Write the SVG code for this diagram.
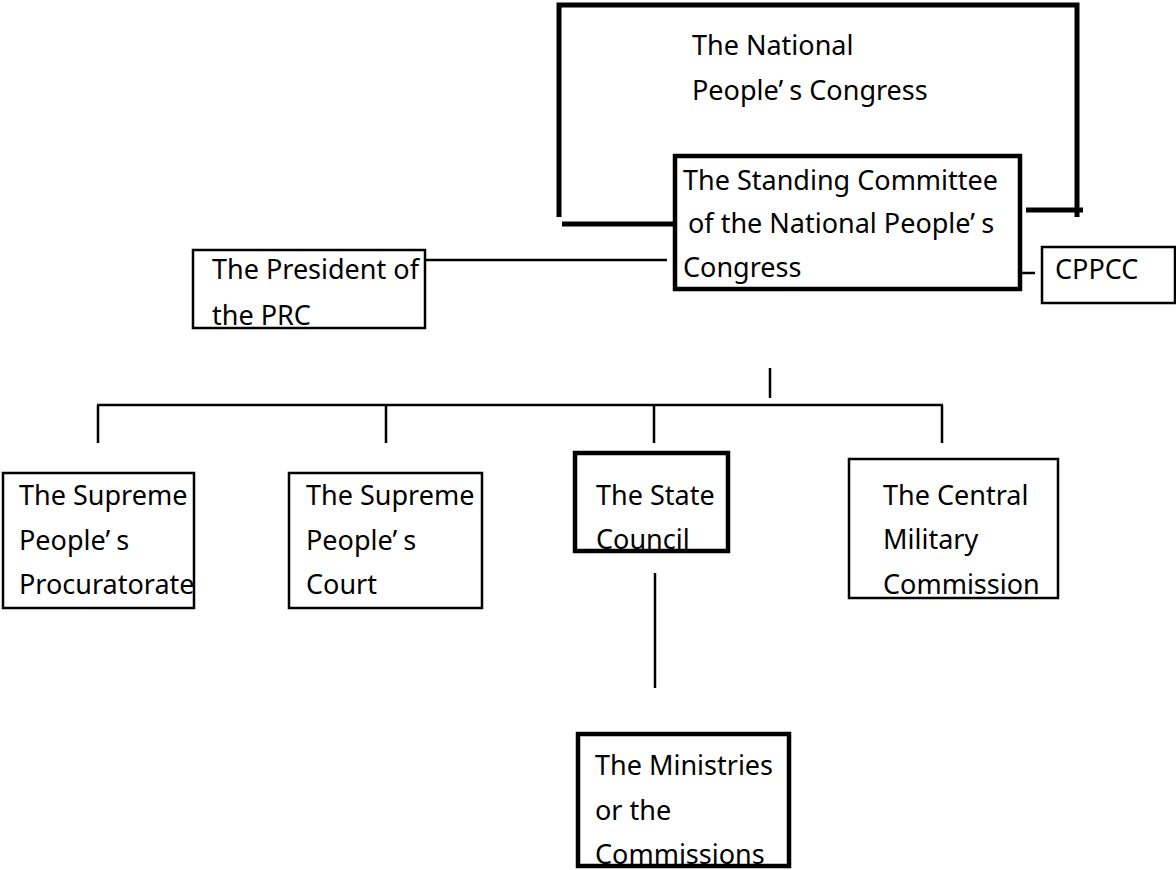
<svg xmlns="http://www.w3.org/2000/svg" width="1176" height="870" viewBox="0 0 1176 870">
<style>
.t{font-family:"Noto Sans","Open Sans",sans-serif;font-size:27px;fill:#000}
.f{fill:#fff;stroke:none}
.thin{fill:none;stroke:#000;stroke-width:2.5}
.thick{fill:none;stroke:#000;stroke-width:4.5}
.c{stroke:#000;stroke-width:2.5;fill:none}
.b{stroke:#000;stroke-width:5;fill:none}
</style>
<rect width="1176" height="870" fill="#fff"/>
<g id="connectors">
<polyline class="b" points="559,217 559,5 1077,5 1077,217"/>
<line class="b" x1="562" y1="224" x2="675" y2="224"/>
<line class="b" x1="1026" y1="210" x2="1083" y2="210"/>
<line class="c" x1="417" y1="260" x2="667" y2="260"/>
<line class="c" x1="1017" y1="273" x2="1035" y2="273"/>
<line class="c" x1="770" y1="368" x2="770" y2="398"/>
<line class="c" x1="97" y1="405" x2="943" y2="405"/>
<line class="c" x1="98" y1="405" x2="98" y2="443"/>
<line class="c" x1="386" y1="405" x2="386" y2="443"/>
<line class="c" x1="654" y1="405" x2="654" y2="443"/>
<line class="c" x1="942" y1="405" x2="942" y2="443"/>
<line class="c" x1="655" y1="573" x2="655" y2="688"/>
</g>
<g id="npc">
<text class="t" x="692" y="55">The National</text>
<text class="t" x="692" y="100">People’<tspan dx="7">s</tspan> Congress</text>
</g>
<g id="standing-committee">
<rect class="f" x="675" y="156" width="345" height="133"/>
<text class="t" x="683" y="190">The Standing Committee</text>
<text class="t" x="688" y="233">of the National People’<tspan dx="7">s</tspan></text>
<text class="t" x="683" y="277">Congress</text>
<rect class="thick" x="675" y="156" width="345" height="133"/>
</g>
<g id="president">
<rect class="f" x="193" y="250" width="232" height="78"/>
<text class="t" x="212" y="279">The President of</text>
<text class="t" x="212" y="325">the PRC</text>
<rect class="thin" x="193" y="250" width="232" height="78"/>
</g>
<g id="cppcc">
<rect class="f" x="1042" y="247" width="133" height="56"/>
<text class="t" x="1055" y="279">CPPCC</text>
<rect class="thin" x="1042" y="247" width="133" height="56"/>
</g>
<g id="procuratorate">
<rect class="f" x="3" y="473" width="191" height="135"/>
<text class="t" x="19" y="505">The Supreme</text>
<text class="t" x="19" y="550">People’<tspan dx="7">s</tspan></text>
<text class="t" x="19" y="594">Procuratorate</text>
<rect class="thin" x="3" y="473" width="191" height="135"/>
</g>
<g id="court">
<rect class="f" x="289" y="473" width="193" height="135"/>
<text class="t" x="306" y="505">The Supreme</text>
<text class="t" x="306" y="550">People’<tspan dx="7">s</tspan></text>
<text class="t" x="306" y="594">Court</text>
<rect class="thin" x="289" y="473" width="193" height="135"/>
</g>
<g id="state-council">
<rect class="f" x="575" y="453" width="153" height="98"/>
<text class="t" x="596" y="505">The State</text>
<text class="t" x="596" y="549">Council</text>
<rect class="thick" x="575" y="453" width="153" height="98"/>
</g>
<g id="cmc">
<rect class="f" x="849" y="459" width="209" height="139"/>
<text class="t" x="883" y="505">The Central</text>
<text class="t" x="883" y="549">Military</text>
<text class="t" x="883" y="594">Commission</text>
<rect class="thin" x="849" y="459" width="209" height="139"/>
</g>
<g id="ministries">
<rect class="f" x="578" y="734" width="211" height="132"/>
<text class="t" x="595" y="775">The Ministries</text>
<text class="t" x="595" y="820">or the</text>
<text class="t" x="595" y="864">Commissions</text>
<rect class="thick" x="578" y="734" width="211" height="132"/>
</g>
</svg>
